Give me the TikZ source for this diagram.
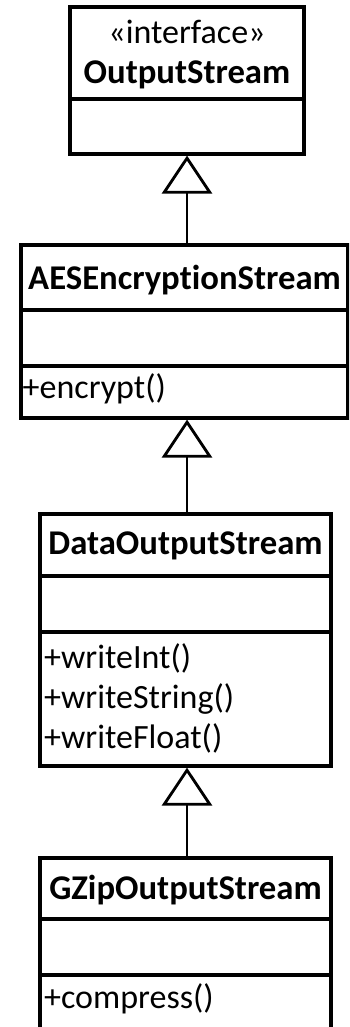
\documentclass[tikz,border=0pt]{standalone}
\usepackage{fontspec}
\setmainfont{Carlito}[Ligatures={NoCommon}]
\usetikzlibrary{arrows.meta}
\begin{document}
\begin{tikzpicture}[x=1pt, y=-1pt,
  classbox/.style={draw, line width=3.2pt, inner sep=0pt, minimum width=#1},
  divider/.style={line width=3.2pt},
  classname/.style={font=\fontsize{34.7}{36}\selectfont\bfseries, anchor=base, inner sep=0pt},
  stereo/.style={font=\fontsize{34}{36}\selectfont, anchor=base, inner sep=0pt},
  member/.style={font=\fontsize{34}{36}\selectfont, anchor=base west, inner sep=0pt},
  inherits/.style={line width=2pt,
    -{Triangle[open, length=38pt, width=50pt, line width=2.8pt]}}]
\useasboundingbox (0,0) rectangle (349,1027);
\clip (0,0) rectangle (349,1027);

% OutputStream (interface)
\node[classbox=234pt, minimum height=147pt] (c1) at (187,80.5) {};
\draw[divider] (70,99) -- (304,99);
\node[stereo] (c1s) at (187,44) {«interface»};
\node[classname] (c1n) at (187,84) {OutputStream};

% AESEncryptionStream
\node[classbox=327pt, minimum height=173pt] (c2) at (184.5,331.5) {};
\draw[divider] (21,310) -- (348,310);
\draw[divider] (21,366) -- (348,366);
\node[classname] (c2n) at (184.5,289) {AESEncryptionStream};
\node[member] (c2m1) at (22.5,398) {+encrypt()};

% DataOutputStream
\node[classbox=291pt, minimum height=252pt] (c3) at (185.5,640) {};
\draw[divider] (40,576) -- (331,576);
\draw[divider] (40,632) -- (331,632);
\node[classname] (c3n) at (185.5,554) {DataOutputStream};
\node[member] (c3m1) at (44,668) {+writeInt()};
\node[member] (c3m2) at (44,708) {+writeString()};
\node[member] (c3m3) at (44,748) {+writeFloat()};

% GZipOutputStream (continues below the page edge)
\node[classbox=291pt, minimum height=202pt] (c4) at (185.5,959) {};
\draw[divider] (40,919) -- (331,919);
\draw[divider] (40,975) -- (331,975);
\node[classname] (c4n) at (185.5,899) {GZipOutputStream};
\node[member] (c4m1) at (44,1008) {+compress()};

% generalisations
\draw[inherits] (c2.north -| c1.south) -- (c1.south);
\draw[inherits] (c3.north -| c1.south) -- (c2.south -| c1.south);
\draw[inherits] (c4.north -| c1.south) -- (c3.south -| c1.south);
\end{tikzpicture}
\end{document}
